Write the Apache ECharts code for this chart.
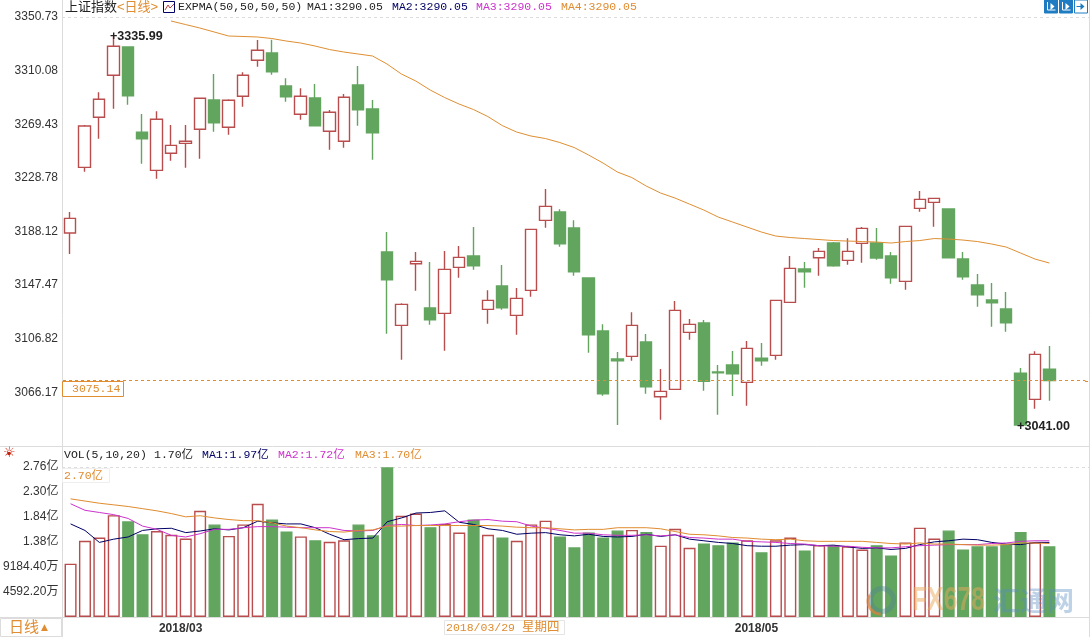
<!DOCTYPE html>
<html>
<head>
<meta charset="utf-8">
<title>上证指数 日线</title>
<script src="https://cdn.jsdelivr.net/npm/echarts@6/dist/echarts.min.js"></script>
<style>
  html, body { margin: 0; padding: 0; background: #fff; }
  #main { width: 1091px; height: 637px; }
</style>
</head>
<body>
<div id="main"></div>
<script>
var dates = [
  '2018/02/14','2018/02/22','2018/02/23','2018/02/26','2018/02/27','2018/02/28',
  '2018/03/01','2018/03/02','2018/03/05','2018/03/06','2018/03/07','2018/03/08','2018/03/09',
  '2018/03/12','2018/03/13','2018/03/14','2018/03/15','2018/03/16',
  '2018/03/19','2018/03/20','2018/03/21','2018/03/22','2018/03/23',
  '2018/03/26','2018/03/27','2018/03/28','2018/03/29','2018/03/30',
  '2018/04/02','2018/04/03','2018/04/04',
  '2018/04/09','2018/04/10','2018/04/11','2018/04/12','2018/04/13',
  '2018/04/16','2018/04/17','2018/04/18','2018/04/19','2018/04/20',
  '2018/04/23','2018/04/24','2018/04/25','2018/04/26','2018/04/27',
  '2018/05/02','2018/05/03','2018/05/04',
  '2018/05/07','2018/05/08','2018/05/09','2018/05/10','2018/05/11',
  '2018/05/14','2018/05/15','2018/05/16','2018/05/17','2018/05/18',
  '2018/05/21','2018/05/22','2018/05/23','2018/05/24','2018/05/25',
  '2018/05/28','2018/05/29','2018/05/30','2018/05/31','2018/06/01',
  '', ''
];

var opens = [
  3186.96,3236.77,3274.68,3306.53,3327.98,3263.31,3234.50,3247.39,3254.97,3265.59,
  3287.80,3267.10,3290.61,3317.90,3323.44,3298.41,3276.96,3289.32,3264.07,3256.49,
  3299.17,3280.98,3172.55,3116.98,3163.68,3130.09,3126.07,3160.95,3169.52,3129.11,
  3146.77,3124.56,3143.51,3196.59,3202.88,3190.75,3152.84,3112.66,3091.43,3093.47,
  3104.32,3062.84,3068.45,3111.67,3118.72,3081.57,3086.88,3073.76,3092.18,3094.23,
  3134.42,3159.66,3168.23,3179.38,3166.26,3179.15,3179.38,3169.52,3150.34,3205.69,
  3210.24,3205.16,3167.25,3147.53,3136.16,3129.34,3080.81,3060.87,3083.84
];
var closes = [
  3198.11,3268.09,3288.33,3328.52,3291.06,3258.46,3273.17,3253.45,3256.49,3289.09,
  3270.59,3287.57,3306.53,3325.48,3309.26,3290.30,3290.61,3268.31,3278.47,3289.85,
  3280.45,3263.01,3151.55,3132.90,3165.50,3121.22,3159.44,3168.53,3162.17,3135.93,
  3130.32,3137.45,3189.76,3207.20,3178.85,3157.62,3109.85,3065.12,3090.14,3116.98,
  3070.42,3066.94,3128.35,3117.74,3074.52,3081.04,3080.28,3099.54,3090.14,3135.93,
  3160.19,3157.62,3173.08,3162.17,3173.08,3190.52,3168.00,3153.07,3192.04,3212.51,
  3213.27,3168.23,3153.83,3140.18,3134.11,3118.95,3041.50,3094.99,3075.14
];
var lows = [
  3171.04,3233.44,3258.46,3281.20,3284.24,3239.50,3228.13,3241.78,3236.47,3243.29,
  3263.77,3261.49,3282.72,3313.05,3306.98,3286.51,3272.86,3267.80,3250.12,3251.63,
  3268.31,3242.53,3110.61,3090.90,3143.21,3117.43,3097.72,3153.07,3159.13,3118.19,
  3128.81,3109.85,3138.66,3190.98,3176.57,3154.59,3096.20,3063.60,3041.38,3090.14,
  3065.12,3045.40,3068.00,3106.06,3067.39,3049.19,3063.37,3056.02,3086.35,3090.90,
  3134.00,3145.49,3154.59,3161.41,3162.93,3164.44,3166.72,3148.52,3143.97,3203.11,
  3191.74,3167.80,3151.55,3131.08,3115.92,3112.13,3041.00,3053.74,3059.81
];
var highs = [
  3202.88,3268.84,3293.64,3335.99,3328.50,3277.19,3279.23,3268.84,3268.84,3289.60,
  3307.51,3288.33,3308.80,3333.29,3333.52,3304.25,3296.67,3299.93,3280.22,3292.35,
  3313.58,3287.80,3187.72,3133.66,3172.55,3164.97,3173.31,3177.10,3191.51,3143.51,
  3162.70,3145.26,3190.20,3220.32,3204.93,3196.59,3153.20,3117.74,3096.73,3126.83,
  3110.38,3083.84,3135.40,3121.75,3121.00,3086.88,3097.49,3105.07,3103.56,3136.40,
  3169.52,3164.97,3175.59,3180.14,3182.94,3191.51,3190.75,3172.55,3192.50,3218.80,
  3213.70,3205.60,3172.55,3155.87,3149.05,3142.23,3084.60,3097.26,3101.28
];
var expma = [
  null,null,null,null,null,null,null,
  3347.70,3345.04,3342.39,3339.36,3336.32,3335.95,3335.57,3334.43,3332.53,3331.02,
  3328.74,3326.09,3324.19,3322.68,3321.16,3315.10,3307.51,3302.21,3295.38,3289.70,
  3284.77,3280.60,3275.29,3268.47,3263.54,3260.50,3258.61,3255.58,3251.79,3246.10,
  3240.03,3233.21,3229.04,3222.59,3217.29,3213.50,3208.95,3204.40,3199.09,3195.30,
  3191.51,3187.72,3184.68,3183.55,3182.79,3182.03,3181.27,3180.89,3180.51,3180.14,
  3179.38,3180.51,3181.27,3182.79,3182.41,3181.65,3180.51,3178.62,3176.34,3171.80,
  3167.25,3164.21
];

// 成交量,单位:亿
var volumes = [
  0.98,1.40,1.46,1.87,1.76,1.52,1.58,1.51,1.44,1.95,1.70,1.49,1.70,2.08,1.79,1.57,
  1.48,1.41,1.38,1.41,1.70,1.50,2.75,1.86,1.90,1.65,1.71,1.55,1.79,1.51,1.46,1.40,
  1.70,1.77,1.48,1.28,1.55,1.46,1.59,1.60,1.56,1.31,1.62,1.27,1.35,1.32,1.37,1.41,
  1.19,1.41,1.46,1.22,1.32,1.32,1.30,1.24,1.32,1.13,1.37,1.64,1.44,1.59,1.24,1.30,
  1.30,1.33,1.56,1.37,1.30
];
var volMa1 = [
  1.71,1.59,1.37,1.43,1.47,1.59,1.62,1.63,1.55,1.58,1.62,1.60,1.64,1.76,1.73,1.71,
  1.71,1.64,1.52,1.42,1.44,1.45,1.75,1.82,1.91,1.92,1.95,1.74,1.70,1.62,1.59,1.52,
  1.54,1.55,1.51,1.49,1.52,1.48,1.47,1.48,1.52,1.48,1.51,1.43,1.40,1.37,1.35,1.31,
  1.30,1.30,1.32,1.33,1.31,1.32,1.29,1.26,1.27,1.24,1.26,1.33,1.38,1.40,1.43,1.42,
  1.37,1.34,1.33,1.37,1.37
];
var volMa2 = [
  2.08,1.96,1.92,1.88,1.81,1.67,1.61,1.50,1.47,1.53,1.61,1.61,1.64,1.66,1.66,1.65,
  1.64,1.64,1.64,1.59,1.58,1.59,1.68,1.70,1.68,1.69,1.71,1.75,1.78,1.79,1.76,1.75,
  1.67,1.63,1.59,1.54,1.54,1.51,1.50,1.50,1.51,1.49,1.51,1.46,1.45,1.43,1.43,1.39,
  1.38,1.37,1.35,1.34,1.31,1.30,1.30,1.28,1.27,1.27,1.29,1.31,1.32,1.33,1.33,1.33,
  1.35,1.36,1.39,1.40,1.40
];
var volMa3 = [
  2.17,2.13,2.09,2.06,2.03,1.99,1.95,1.90,1.84,1.86,1.82,1.79,1.77,1.77,1.73,1.67,
  1.64,1.60,1.57,1.56,1.59,1.60,1.67,1.67,1.68,1.68,1.68,1.68,1.68,1.68,1.67,1.65,
  1.64,1.64,1.62,1.60,1.61,1.61,1.64,1.64,1.64,1.62,1.57,1.52,1.51,1.49,1.46,1.45,
  1.43,1.42,1.43,1.40,1.39,1.39,1.39,1.39,1.37,1.35,1.34,1.36,1.34,1.34,1.33,1.32,
  1.32,1.33,1.36,1.36,1.35
];

var priceTicks = [3066.17, 3106.82, 3147.47, 3188.12, 3228.78, 3269.43, 3310.08, 3350.73];
var volTicks = [0.45922, 0.91844, 1.37766, 1.83688, 2.2961, 2.75532];
var monthLabels = ['2018/03/01', '2018/05/02'];

var upColor = '#b94c4c';
var downColor = '#62a55f';
var orange = '#e08c30';
var navy = '#000066';
var magenta = '#cc33cc';
var sansFont = '"Liberation Sans", "Noto Sans CJK SC", sans-serif';
var monoFont = '"Liberation Mono", "Noto Sans CJK SC", monospace';
var frameColor = '#dcdcdc';

var candles = [];
var volumeBars = [];
for (var i = 0; i < opens.length; i++) {
  candles.push([opens[i], closes[i], lows[i], highs[i]]);
  var up = closes[i] > opens[i];
  volumeBars.push({
    value: volumes[i],
    itemStyle: {
      color: up ? '#fff' : downColor,
      borderColor: up ? upColor : downColor,
      borderWidth: 1.4
    }
  });
}

function maLine(name, data, color, xIndex, yIndex) {
  return {
    name: name, type: 'line', data: data, xAxisIndex: xIndex, yAxisIndex: yIndex,
    showSymbol: false, silent: true,
    lineStyle: { color: color, width: 1 }
  };
}

function hline(x1, x2, y, dashed) {
  return {
    type: 'line', silent: true, z: 1,
    shape: { x1: x1, y1: y, x2: x2, y2: y },
    style: { stroke: frameColor, lineWidth: 1, lineDash: dashed ? [3, 3] : null }
  };
}
function vline(x, y1, y2) {
  return {
    type: 'line', silent: true, z: 1,
    shape: { x1: x, y1: y1, x2: x, y2: y2 },
    style: { stroke: frameColor, lineWidth: 1 }
  };
}
function label(x, y, text, color, font, size, extra) {
  var s = { x: x, y: y, text: text, fill: color, font: (size || 11.5) + 'px ' + (font || monoFont), verticalAlign: 'middle' };
  if (extra) { for (var k in extra) { s[k] = extra[k]; } }
  return { type: 'text', silent: true, z: 20, style: s };
}
function iconButton(x, filled) {
  return {
    type: 'group', x: x, y: 0, silent: true, z: 20,
    children: [
      { type: 'rect', shape: { x: 0, y: 0, width: 13, height: 13 }, style: { fill: filled ? '#1f7cc2' : '#fff', stroke: '#1f7cc2', lineWidth: 1 } },
      { type: 'polyline', shape: { points: filled ? [[3, 2], [3, 10], [11, 10]] : [[2, 6.5], [7, 6.5]] }, style: { stroke: filled ? '#fff' : '#1f7cc2', fill: 'none', lineWidth: 1 } },
      { type: 'polygon', shape: { points: [[6, 3], [10, 6.5], [6, 10]] }, style: { fill: filled ? '#fff' : '#1f7cc2' } }
    ]
  };
}

var chart = echarts.init(document.getElementById('main'));
chart.setOption({
  animation: false,
  backgroundColor: '#fff',
  textStyle: { fontFamily: sansFont },
  grid: [
    { left: 63, top: 17, width: 1022.4, height: 429 },
    { left: 63, top: 467, width: 1022.4, height: 150 }
  ],
  xAxis: [
    {
      type: 'category', gridIndex: 0, data: dates, boundaryGap: true,
      axisLine: { show: false }, axisTick: { show: false }, axisLabel: { show: false }, splitLine: { show: false }
    },
    {
      type: 'category', gridIndex: 1, data: dates, boundaryGap: true,
      axisLine: { show: false }, axisTick: { show: false }, splitLine: { show: false },
      axisLabel: {
        align: 'left', margin: 6, color: '#333', fontSize: 12, fontWeight: 'bold', fontFamily: sansFont,
        padding: [0, 0, 0, 2],
        interval: function (idx, value) { return monthLabels.indexOf(value) >= 0; },
        formatter: function (value) { return value.slice(0, 7); }
      }
    }
  ],
  yAxis: [
    {
      type: 'value', gridIndex: 0, min: 3025.53, max: 3350.73, interval: 40.65, scale: true,
      axisLine: { show: false }, axisTick: { show: false }, splitLine: { show: false },
      axisLabel: {
        customValues: priceTicks, margin: 5, color: '#333', fontSize: 12, fontFamily: sansFont,
        formatter: function (v) { return v.toFixed(2); }
      }
    },
    {
      type: 'value', gridIndex: 1, min: 0, max: 2.75532, interval: 0.45922,
      axisLine: { show: false }, axisTick: { show: false }, splitLine: { show: false },
      axisLabel: {
        customValues: volTicks, margin: 5, color: '#333', fontSize: 12, fontFamily: sansFont,
        formatter: function (v) { return v >= 1 ? v.toFixed(2) + '亿' : (v * 10000).toFixed(2) + '万'; }
      }
    }
  ],
  series: [
    {
      name: '上证指数', type: 'candlestick', data: candles, xAxisIndex: 0, yAxisIndex: 0,
      barWidth: 12, silent: true,
      itemStyle: { color: '#fff', color0: downColor, borderColor: upColor, borderColor0: downColor, borderWidth: 1.4 },
      markPoint: {
        silent: true, symbol: 'circle', symbolSize: 1, itemStyle: { color: 'transparent' },
        label: { position: 'right', distance: 0, offset: [-4, 0.5], color: '#222', fontSize: 12.6, fontWeight: 'bold', fontFamily: sansFont, formatter: '{b}' },
        data: [
          { name: '+3335.99', coord: [3, 3335.99] },
          { name: '+3041.00', coord: [66, 3041.00] }
        ]
      },
      markLine: {
        silent: true, symbol: 'none', label: { show: false },
        lineStyle: { color: orange, type: [3, 3], width: 1 },
        data: [{ yAxis: 3075.14 }]
      }
    },
    maLine('EXPMA', expma, '#df8f33', 0, 0),
    {
      name: 'VOL', type: 'bar', data: volumeBars, xAxisIndex: 1, yAxisIndex: 1, barWidth: 12, silent: true
    },
    maLine('MA1', volMa1, navy, 1, 1),
    maLine('MA2', volMa2, magenta, 1, 1),
    maLine('MA3', volMa3, orange, 1, 1)
  ],
  graphic: [
    vline(62.5, 0, 637),
    vline(1089.5, 0, 637),
    hline(0, 1090, 446.5),
    hline(0, 1090, 617.5),
    hline(62, 1089, 17.5, true),
    hline(62, 1089, 467.5, true),
    { type: 'line', silent: true, z: 1, shape: { x1: 1085, y1: 381.5, x2: 1089, y2: 381.5 }, style: { stroke: orange, lineDash: [3, 3] } },

    // 顶部信息栏
    label(65, 7, '上证指数', '#222', sansFont, 13),
    label(117, 7, '<日线>', orange, sansFont, 13),
    { type: 'rect', silent: true, z: 20, shape: { x: 163.5, y: 1.5, width: 11, height: 11 }, style: { fill: '#fff', stroke: navy } },
    { type: 'polyline', silent: true, z: 21, shape: { points: [[165, 10], [168, 5], [170, 8], [174, 4]] }, style: { fill: 'none', stroke: '#c04040' } },
    label(178, 7, 'EXPMA(50,50,50,50)', '#222'),
    label(307, 7, 'MA1:3290.05', '#222'),
    label(392, 7, 'MA2:3290.05', navy),
    label(476, 7, 'MA3:3290.05', magenta),
    label(561, 7, 'MA4:3290.05', orange),
    iconButton(1044.5, true),
    iconButton(1059.5, true),
    iconButton(1074.5, false),

    // 现价标签
    { type: 'rect', silent: true, z: 19, shape: { x: 62.5, y: 381.5, width: 61, height: 15 }, style: { fill: '#fff', stroke: orange } },
    label(72, 389, '3075.14', orange),

    // 成交量信息栏
    label(3, 453, '☼', '#d0301c', '"DejaVu Sans"', 14, { align: 'left' }),
    { type: 'circle', silent: true, z: 21, shape: { cx: 9, cy: 453.5, r: 1.8 }, style: { fill: '#c0200c' } },
    label(64, 455, 'VOL(5,10,20)', '#222'),
    label(154, 455, '1.70亿', '#222'),
    label(202, 455, 'MA1:1.97亿', navy),
    label(278, 455, 'MA2:1.72亿', magenta),
    label(355, 455, 'MA3:1.70亿', orange),
    { type: 'rect', silent: true, z: 19, shape: { x: 62.5, y: 468.5, width: 47, height: 14 }, style: { fill: '#fff', stroke: '#eeeeee' } },
    label(64, 476, '2.70亿', orange),

    // 底部
    { type: 'rect', silent: true, z: 18, shape: { x: 0.5, y: 618.5, width: 61, height: 18 }, style: { fill: '#fff', stroke: frameColor } },
    label(9, 628, '日线', orange, sansFont, 15),
    label(41, 628, '▲', orange, '"DejaVu Sans"', 9),
    { type: 'rect', silent: true, z: 19, shape: { x: 444.5, y: 620.5, width: 120, height: 14 }, style: { fill: '#fff', stroke: '#e4e4e4' } },
    label(446, 628, '2018/03/29', orange),
    label(522, 628, '星期四', orange, sansFont, 12.5),

    // 水印
    { type: 'ring', silent: true, z: 30, shape: { cx: 882, cy: 600, r: 14, r0: 9 }, style: { fill: 'rgba(80,130,150,0.4)' } },
    { type: 'arc', silent: true, z: 31, shape: { cx: 881, cy: 601, r: 13, startAngle: 1.6, endAngle: 3.6 }, style: { stroke: 'rgba(226,130,60,0.7)', fill: 'none', lineWidth: 3 } },
    { type: 'text', silent: true, z: 30, x: 912, y: 601, scaleX: 0.75, style: { x: 0, y: 0, text: 'FX678', fill: 'rgba(232,170,90,0.5)', font: 'bold 33px ' + sansFont, verticalAlign: 'middle' } },
    { type: 'text', silent: true, z: 30, style: { x: 993, y: 601, text: '汇通网', fill: 'rgba(90,140,195,0.4)', font: 'bold 27px "Noto Sans CJK SC"', verticalAlign: 'middle' } }
  ]
});
</script>
</body>
</html>
